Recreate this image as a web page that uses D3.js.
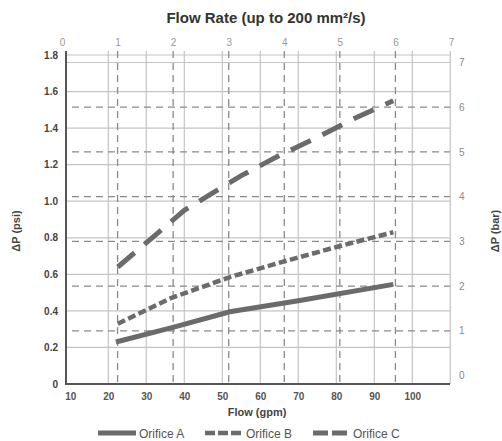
<!DOCTYPE html>
<html>
<head>
<meta charset="utf-8">
<script src="https://cdn.jsdelivr.net/npm/d3@7"></script>
<style>
  body { margin: 0; background: #fff; }
  svg { font-family: "Liberation Sans", Arial, sans-serif; }
</style>
</head>
<body>
<svg id="chart" width="502" height="441"></svg>
<script>
// data (flow in gpm, pressure drop in psi)
var orificeA = [[22, 0.23], [37, 0.31], [52, 0.395], [70, 0.455], [95, 0.545]];
var orificeB = [[22.5, 0.33], [36.5, 0.47], [52, 0.585], [67, 0.675], [81, 0.755], [95, 0.83]];
var orificeC = [[22.5, 0.64], [40, 0.95], [55, 1.14], [65, 1.25], [75, 1.35], [85, 1.455], [95, 1.55]];
var seriesNames = ["Orifice A", "Orifice B", "Orifice C"];

var gpmTicks = [10, 20, 30, 40, 50, 60, 70, 80, 90, 100];
var gpmGrid = [20, 30, 40, 50, 60, 70, 80, 90, 100, 110];
var psiTicks = [0, 0.2, 0.4, 0.6, 0.8, 1.0, 1.2, 1.4, 1.6, 1.8];
var barTicks = [0, 1, 2, 3, 4, 5, 6, 7];
var topTicks = [0, 1, 2, 3, 4, 5, 6, 7];

var svg = d3.select("#chart");

var x = d3.scaleLinear().domain([10, 110]).range([70.3, 450.3]);
var xTop = d3.scaleLinear().domain([0, 7]).range([62, 451]);
var y = d3.scaleLinear().domain([0, 1.8]).range([384, 55]);
var yBar = d3.scaleLinear().domain([0, 7]).range([375.5, 62.5]);

var pLeft = 66, pRight = 450, pTop = 55, pBottom = 384;

// solid grid
svg.append("g").selectAll("line")
  .data(gpmGrid)
  .enter().append("line")
  .attr("x1", function(d) { return x(d); })
  .attr("x2", function(d) { return x(d); })
  .attr("y1", pTop - 4).attr("y2", pBottom)
  .attr("stroke", "#c4c4c4").attr("stroke-width", 1.2);

svg.append("g").selectAll("line")
  .data(psiTicks.slice(1))
  .enter().append("line")
  .attr("x1", pLeft).attr("x2", pRight)
  .attr("y1", function(d) { return y(d); })
  .attr("y2", function(d) { return y(d); })
  .attr("stroke", "#c4c4c4").attr("stroke-width", 1.2);

svg.append("line")
  .attr("x1", pLeft).attr("x2", pRight)
  .attr("y1", yBar(7)).attr("y2", yBar(7))
  .attr("stroke", "#c4c4c4").attr("stroke-width", 1.2);

// dashed grid for the secondary axes
svg.append("g").selectAll("line")
  .data(topTicks.slice(1, 7))
  .enter().append("line")
  .attr("x1", function(d) { return xTop(d); })
  .attr("x2", function(d) { return xTop(d); })
  .attr("y1", pTop - 4).attr("y2", pBottom)
  .attr("stroke", "#8a8a8a").attr("stroke-width", 1.3)
  .attr("stroke-dasharray", "7,5");

svg.append("g").selectAll("line")
  .data(barTicks.slice(1, 7))
  .enter().append("line")
  .attr("x1", pLeft + 6).attr("x2", pRight)
  .attr("y1", function(d) { return yBar(d); })
  .attr("y2", function(d) { return yBar(d); })
  .attr("stroke", "#8a8a8a").attr("stroke-width", 1.3)
  .attr("stroke-dasharray", "7,5");

// axes frame
svg.append("line").attr("x1", pLeft).attr("x2", pLeft).attr("y1", pTop - 4).attr("y2", pBottom + 1)
  .attr("stroke", "#555").attr("stroke-width", 2);
svg.append("line").attr("x1", pLeft).attr("x2", pRight).attr("y1", pBottom).attr("y2", pBottom)
  .attr("stroke", "#555").attr("stroke-width", 2);

// tick labels
var leftAxis = d3.axisLeft(y).tickValues(psiTicks).tickSize(0).tickPadding(8)
  .tickFormat(function(d) { return d === 0 ? "0" : d3.format(".1f")(d); });
var gl = svg.append("g").attr("transform", "translate(" + pLeft + ",0)").call(leftAxis);
gl.select(".domain").remove();
gl.selectAll("text").attr("font-size", 10).attr("font-weight", "bold").attr("fill", "#444")
  .attr("font-family", "Liberation Sans, Arial, sans-serif");

var rightAxis = d3.axisRight(yBar).tickValues(barTicks).tickSize(0).tickPadding(9)
  .tickFormat(d3.format("d"));
var gr = svg.append("g").attr("transform", "translate(" + pRight + ",0)").call(rightAxis);
gr.select(".domain").remove();
gr.selectAll("text").attr("font-size", 10).attr("fill", "#8a8a8a")
  .attr("font-family", "Liberation Sans, Arial, sans-serif");

var bottomAxis = d3.axisBottom(x).tickValues(gpmTicks).tickSize(0).tickPadding(9);
var gb = svg.append("g").attr("transform", "translate(0," + pBottom + ")").call(bottomAxis);
gb.select(".domain").remove();
gb.selectAll("text").attr("font-size", 10).attr("font-weight", "bold").attr("fill", "#555")
  .attr("font-family", "Liberation Sans, Arial, sans-serif");

var topAxis = d3.axisTop(xTop).tickValues(topTicks).tickSize(0).tickPadding(9)
  .tickFormat(d3.format("d"));
var gt = svg.append("g").attr("transform", "translate(0," + pTop + ")").call(topAxis);
gt.select(".domain").remove();
gt.selectAll("text").attr("font-size", 10).attr("fill", "#999")
  .attr("font-family", "Liberation Sans, Arial, sans-serif");

// series
var line = d3.line()
  .x(function(d) { return x(d[0]); })
  .y(function(d) { return y(d[1]); });

var styles = [
  { data: orificeA, dash: null, width: 5 },
  { data: orificeB, dash: "8,3.5", width: 4.5 },
  { data: orificeC, dash: "22,13", width: 5 }
];

svg.append("g").selectAll("path")
  .data(styles)
  .enter().append("path")
  .attr("d", function(d) { return line(d.data); })
  .attr("fill", "none")
  .attr("stroke", "#6b6b6b")
  .attr("stroke-width", function(d) { return d.width; })
  .attr("stroke-dasharray", function(d) { return d.dash; });

// titles
svg.append("text").attr("x", 266).attr("y", 23).attr("text-anchor", "middle")
  .attr("font-size", 15).attr("font-weight", "bold").attr("fill", "#333")
  .text("Flow Rate (up to 200 mm²/s)");

svg.append("text").attr("transform", "translate(20,231) rotate(-90)").attr("text-anchor", "middle")
  .attr("font-size", 11).attr("font-weight", "bold").attr("fill", "#444")
  .text("ΔP (psi)");

svg.append("text").attr("transform", "translate(499,231) rotate(-90)").attr("text-anchor", "middle")
  .attr("font-size", 11).attr("font-weight", "bold").attr("fill", "#444")
  .text("ΔP (bar)");

svg.append("text").attr("x", 257).attr("y", 416).attr("text-anchor", "middle")
  .attr("font-size", 11).attr("font-weight", "bold").attr("fill", "#444")
  .text("Flow (gpm)");

// legend
var legendX = [98, 205, 313];
var lg = svg.append("g").selectAll("g")
  .data(styles)
  .enter().append("g")
  .attr("transform", function(d, i) { return "translate(" + legendX[i] + ",433)"; });

lg.append("line")
  .attr("x1", 0).attr("x2", function(d, i) { return i === 2 ? 34 : 38; })
  .attr("y1", 0).attr("y2", 0)
  .attr("stroke", "#6b6b6b")
  .attr("stroke-width", function(d) { return d.width; })
  .attr("stroke-dasharray", function(d, i) { return i === 1 ? "10,3" : (i === 2 ? "15,4" : null); });

lg.append("text")
  .attr("x", function(d, i) { return i === 2 ? 40 : 41; })
  .attr("y", 4.5)
  .attr("font-size", 12).attr("fill", "#555")
  .text(function(d, i) { return seriesNames[i]; });
</script>
</body>
</html>
